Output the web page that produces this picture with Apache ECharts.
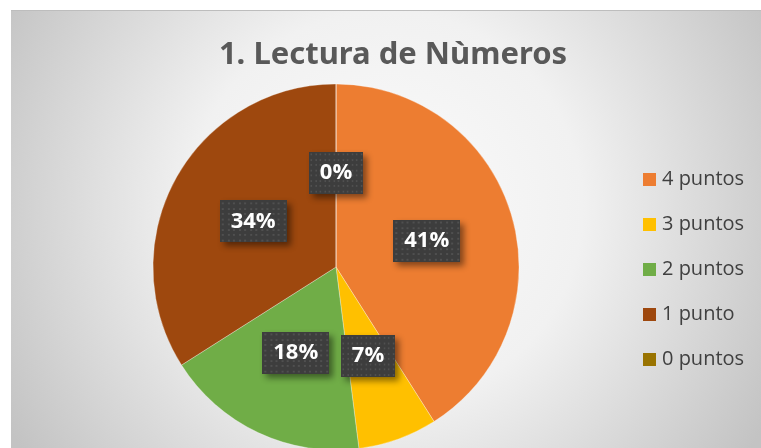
<!DOCTYPE html>
<html lang="es">
<head>
<meta charset="UTF-8">
<title>1. Lectura de Nùmeros</title>
<script src="https://cdn.jsdelivr.net/npm/echarts@6/dist/echarts.min.js"></script>
<style>
  html, body { margin: 0; padding: 0; background: #fff; }
  #wrap { position: absolute; left: 11px; top: 10px; width: 750px; height: 438px;
          border-top: 1px solid #bdbdbd; box-sizing: border-box; }
  #chart { width: 100%; height: 100%; }
</style>
</head>
<body>
<div id="wrap"><div id="chart"></div></div>
<script>
  // datos
  var categorias = ['4 puntos', '3 puntos', '2 puntos', '1 punto', '0 puntos'];
  var porcentajes = [41, 7, 18, 34, 0];
  var colores = ['#ED7D31', '#FFC000', '#70AD47', '#9E480E', '#997300'];

  // textura punteada para las etiquetas
  function textura() {
    var c = document.createElement('canvas');
    c.width = 66; c.height = 44;
    var ctx = c.getContext('2d');
    ctx.fillStyle = '#3d3d3d';
    ctx.fillRect(0, 0, 66, 44);
    ctx.fillStyle = '#505050';
    for (var y = 2; y < 44; y += 5.5) {
      for (var x = 2; x < 66; x += 5.5) {
        ctx.fillRect(Math.round(x), Math.round(y), 2, 2);
      }
    }
    return c;
  }

  var myChart = echarts.init(document.getElementById('chart'));

  var datos = [];
  for (var i = 0; i < categorias.length; i++) {
    datos.push({ name: categorias[i], value: porcentajes[i], itemStyle: { color: colores[i] } });
  }

  var option = {
    backgroundColor: new echarts.graphic.RadialGradient(0.5, 0.45, 1.0, [
      { offset: 0, color: '#fbfbfb' },
      { offset: 0.45, color: '#f1f1f1' },
      { offset: 1, color: '#c3c3c3' }
    ]),
    title: {
      text: '1. Lectura de Nùmeros',
      left: 382,
      textAlign: 'center',
      top: 29,
      padding: 0,
      textStyle: {
        fontFamily: 'Noto Sans',
        fontSize: 31,
        fontWeight: 'bold',
        color: '#595959'
      }
    },
    legend: {
      orient: 'vertical',
      left: 632,
      top: 157,
      padding: 0,
      itemWidth: 13,
      itemHeight: 13,
      itemGap: 22,
      itemStyle: { borderWidth: 0 },
      icon: 'rect',
      data: categorias,
      textStyle: {
        fontFamily: 'Open Sans',
        fontSize: 20,
        lineHeight: 23,
        color: '#404040',
        padding: [0, 0, 0, 1]
      }
    },
    series: [{
      type: 'pie',
      animation: false,
      center: [325, 256],
      radius: 183,
      startAngle: 90,
      clockwise: true,
      avoidLabelOverlap: false,
      itemStyle: {
        borderColor: 'rgba(255,255,255,0.5)',
        borderWidth: 0.6
      },
      label: {
        show: true,
        position: 'inside',
        formatter: '{c}%',
        fontFamily: 'Open Sans',
        fontSize: 22,
        fontWeight: 'bold',
        color: '#ffffff',
        backgroundColor: { image: textura() },
        padding: [10, 11, 10, 11],
        shadowColor: 'rgba(0,0,0,0.45)',
        shadowBlur: 6,
        shadowOffsetX: 4,
        shadowOffsetY: 4
      },
      labelLine: { show: false },
      emphasis: { disabled: true },
      data: datos
    }]
  };

  myChart.setOption(option);
</script>
</body>
</html>
